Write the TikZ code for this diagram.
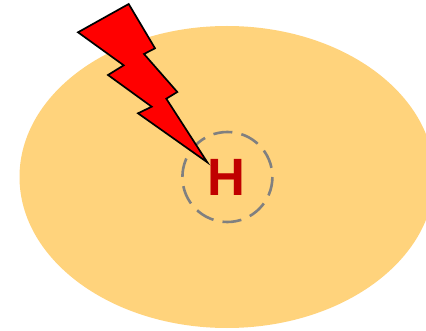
\documentclass[tikz,border=0pt]{standalone}
\usepackage{fontspec}
\setmainfont{Liberation Sans}
\definecolor{halo}{HTML}{FFD37C}
\definecolor{hred}{HTML}{C00000}
\definecolor{ringgray}{HTML}{808080}
\tikzset{
  ringline/.style={draw=ringgray, line width=2.6pt, dash pattern=on 19pt off 9.274pt},
  bolt/.style={draw=black, fill=red, line width=1.7pt, line join=miter, miter limit=10},
  letterh/.style={text=hred, font=\bfseries\fontsize{52.5pt}{53pt}\selectfont, inner sep=0pt, anchor=center}
}
\begin{document}
\begin{tikzpicture}[x=1pt,y=-1pt]
\useasboundingbox (0,0) rectangle (426,331);
\clip (0,0) rectangle (426,331);
\fill[halo] (227,177) ellipse [x radius=207.5, y radius=151];
\draw[ringline] (227.4,177) circle [radius=45];
\node[letterh] (h) at (226.5,177) {H};
\draw[bolt] (128.7,4) -- (155,48.3) -- (144,54) -- (177.3,92) -- (166.3,98.7) -- (207.3,162.3)
  -- (138,113.3) -- (151.7,106.7) -- (108,75) -- (123.7,65.3) -- (78,32.3) -- cycle;
\end{tikzpicture}
\end{document}
